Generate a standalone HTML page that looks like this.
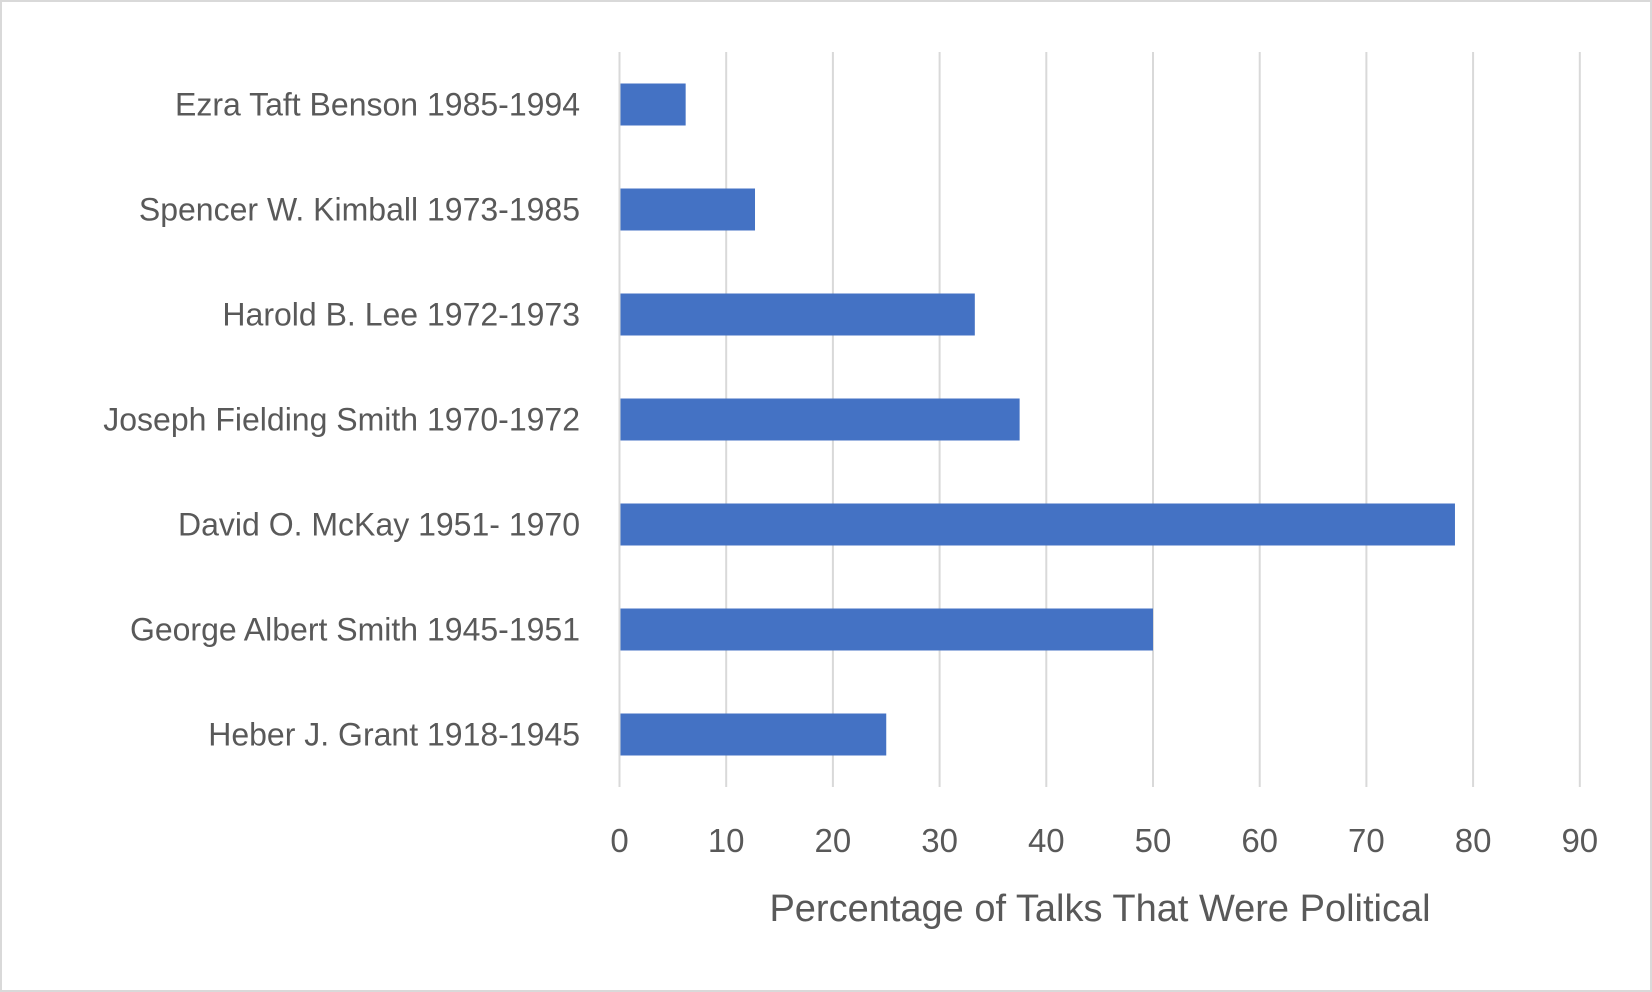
<!DOCTYPE html>
<html><head><meta charset="utf-8"><style>
html,body{margin:0;padding:0;background:#fff}
svg{display:block}
text{font-family:"Liberation Sans",sans-serif;fill:#595959}
</style></head><body>
<svg id="chart" width="1652" height="992" viewBox="0 0 1652 992" xmlns="http://www.w3.org/2000/svg">
<rect x="1" y="1" width="1650" height="990" fill="#fff" stroke="#d9d9d9" stroke-width="2"/>
<g id="grid"></g>
<g id="bars"></g>
<g id="ylabels"></g>
<g id="xlabels"></g>
<text x="1100" y="921" font-size="38" text-anchor="middle">Percentage of Talks That Were Political</text>
</svg>
<script>
const categories = ["Ezra Taft Benson 1985-1994","Spencer W. Kimball 1973-1985","Harold B. Lee 1972-1973","Joseph Fielding Smith 1970-1972","David O. McKay 1951- 1970","George Albert Smith 1945-1951","Heber J. Grant 1918-1945"];
const values = [6.2, 12.7, 33.3, 37.5, 78.3, 50, 25];
const ticks = [0,10,20,30,40,50,60,70,80,90];

const NS="http://www.w3.org/2000/svg";
const x0=619.5, pxPerUnit=10.67, yTop=52, yBottom=787;
const band=(yBottom-yTop)/categories.length, barH=42;
const xs=v=>x0+v*pxPerUnit;
const yc=i=>yTop+band*(i+0.5);
const grid=document.getElementById('grid'), bars=document.getElementById('bars'), yl=document.getElementById('ylabels'), xl=document.getElementById('xlabels');
ticks.forEach(t=>{
  const l=document.createElementNS(NS,'line');
  
  
  l.setAttribute('x1',xs(t));l.setAttribute('x2',xs(t));l.setAttribute('y1',yTop);l.setAttribute('y2',yBottom);
  l.setAttribute('stroke','#d9d9d9');l.setAttribute('stroke-width','2');
  grid.appendChild(l);
  const tx=document.createElementNS(NS,'text');
  
  
  tx.setAttribute('x',xs(t));tx.setAttribute('y',852);tx.setAttribute('font-size','33');tx.setAttribute('text-anchor','middle');
  tx.textContent=t;xl.appendChild(tx);
});
categories.forEach((c,i)=>{
  const r=document.createElementNS(NS,'rect');
  
  
  r.setAttribute('x',xs(0)+1);r.setAttribute('y',yc(i)-barH/2);r.setAttribute('width',xs(values[i])-xs(0)-1);r.setAttribute('height',barH);
  r.setAttribute('fill','#4472c4');bars.appendChild(r);
  const t=document.createElementNS(NS,'text');
  
  
  t.setAttribute('x',580);t.setAttribute('y',yc(i)+11);t.setAttribute('font-size','32');t.setAttribute('text-anchor','end');
  t.textContent=c;yl.appendChild(t);
});
</script>
</body></html>
